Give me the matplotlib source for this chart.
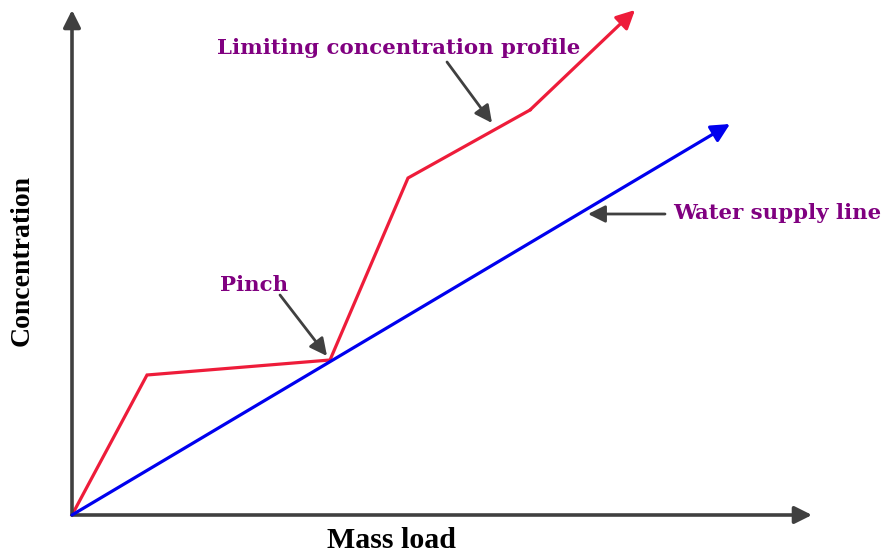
import matplotlib
matplotlib.use("Agg")
import matplotlib.pyplot as plt

# data (origin at the axes corner)
limit_x = [0, 75, 258, 336, 458, 563]
limit_y = [0, 140, 155, 337, 405, 505]
supply_x = [0, 658]
supply_y = [0, 391]

x_axis_end = 740
y_axis_end = 505

purple = "#800080"
red = "#ee1c3a"
blue = "#0000ee"
grey = "#404040"

fig = plt.figure(figsize=(8.92, 5.55), dpi=100)
ax = fig.add_axes([0, 0, 1, 1])
ax.set_xlim(-72, 820)
ax.set_ylim(-40, 515)
ax.axis("off")

# axes arrows
arrow_ax = dict(arrowstyle="-|>", color=grey, lw=2.6, mutation_scale=26, shrinkA=0, shrinkB=0)
ax.annotate("", xy=(x_axis_end, 0), xytext=(0, 0), arrowprops=arrow_ax)
ax.annotate("", xy=(0, y_axis_end), xytext=(0, 0), arrowprops=arrow_ax)

# limiting concentration profile
ax.plot(limit_x[:-1], limit_y[:-1], color=red, lw=2.3, solid_joinstyle="miter")
ax.annotate("", xy=(limit_x[-1], limit_y[-1]), xytext=(limit_x[-2], limit_y[-2]),
            arrowprops=dict(arrowstyle="-|>", color=red, lw=2.3, mutation_scale=28,
                            shrinkA=0, shrinkB=0))

# water supply line
ax.annotate("", xy=(supply_x[1], supply_y[1]), xytext=(supply_x[0], supply_y[0]),
            arrowprops=dict(arrowstyle="-|>", color=blue, lw=2.3, mutation_scale=28,
                            shrinkA=0, shrinkB=0))

# labels
ax.text(319, -25, "Mass load", ha="center", va="center",
        family="Liberation Serif", weight="bold", size=21.5)
ax.text(-50, 255, "Concentration", ha="center", va="center", rotation=90,
        family="Liberation Serif", weight="bold", size=20)

ann_font = dict(family="DejaVu Serif", weight="bold", size=15.3, color=purple)
pointer = dict(arrowstyle="-|>", color=grey, lw=2, mutation_scale=26, shrinkA=0, shrinkB=0)
ax.text(327, 467, "Limiting concentration profile", ha="center", va="center", **ann_font)
ax.annotate("", xy=(420, 392), xytext=(375, 453), arrowprops=pointer)
ax.text(182, 230, "Pinch", ha="center", va="center", **ann_font)
ax.annotate("", xy=(255, 159), xytext=(208, 220), arrowprops=pointer)
ax.text(601, 302, "Water supply line", ha="left", va="center", **ann_font)
ax.annotate("", xy=(516, 301), xytext=(593, 301), arrowprops=pointer)

fig.savefig("out.png", dpi=100)
